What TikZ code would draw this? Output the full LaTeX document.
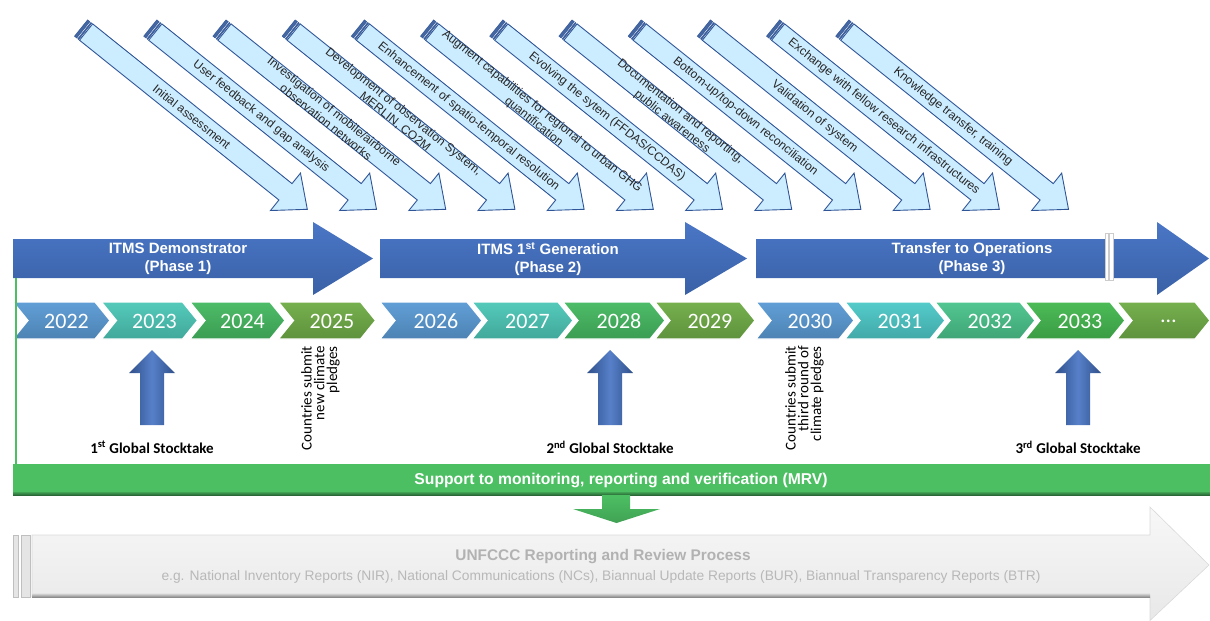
\documentclass[tikz,border=0pt]{standalone}
\usepackage{fontspec}
\setmainfont{Liberation Sans}
\newfontfamily\calibrifont{Carlito}
\usetikzlibrary{positioning, calc}

\definecolor{phaseblue}{RGB}{68,114,196}
\definecolor{taskfill}{RGB}{204,236,255}
\definecolor{taskline}{RGB}{47,85,151}
\definecolor{yblue}{RGB}{91,155,213}
\definecolor{yteal}{RGB}{77,200,184}
\definecolor{ygreen}{RGB}{70,186,98}
\definecolor{yolive}{RGB}{112,173,71}
\definecolor{ycyan}{RGB}{77,201,200}
\definecolor{ymint}{RGB}{75,196,140}
\definecolor{yleaf}{RGB}{69,185,80}
\definecolor{mrvgreen}{RGB}{76,191,99}

\begin{document}
\begin{tikzpicture}[
    x=1pt, y=-1pt,
    taskarrow/.style={draw=taskline, fill=taskfill, line width=0.9pt, line join=miter},
    taskstripe/.style={fill=taskline!90, draw=taskline, line width=0.4pt},
    tasktext/.style={font=\fontsize{12}{13.5}\selectfont, text=black!85, align=center, inner sep=0pt},
    phasearrow/.style={top color=phaseblue!97!white, bottom color=phaseblue!85!black},
    phasetext/.style={font=\bfseries\fontsize{15}{18}\selectfont, text=white, align=center, inner sep=0pt},
    yearbox/.style={top color=#1!96!white, bottom color=#1!84!black, draw=white, line width=1.2pt, line join=miter},
    yeartext/.style={font=\calibrifont\fontsize{22}{22}\selectfont, text=white, inner sep=0pt},
    stockarrow/.style={left color=phaseblue!70!black, right color=phaseblue!70!black, middle color=phaseblue!90!white},
    stocktext/.style={font=\calibrifont\bfseries\fontsize{15}{18}\selectfont, inner sep=0pt},
    pledgetext/.style={font=\calibrifont\fontsize{15}{12.7}\selectfont, align=right, rotate=90, inner sep=0pt, anchor=north east},
    mrvtext/.style={font=\bfseries\fontsize{15.7}{18}\selectfont, text=white, inner sep=0pt},
    greyarrow/.style={top color=black!3, bottom color=black!9, draw=black!15, line width=0.6pt},
    greytitle/.style={font=\bfseries\fontsize{15.4}{18}\selectfont, text=black!30, inner sep=0pt},
    greynote/.style={font=\fontsize{13.8}{16}\selectfont, text=black!28, inner sep=0pt}
]
\useasboundingbox (0,0) rectangle (1210,621);

% work packages along the top
\foreach \txt [count=\i from 0] in {
    {Initial assessment},
    {User feedback and gap analysis},
    {Investigation of mobile/airborne\\observation networks},
    {Development of observation System,\\MERLIN, CO2M},
    {Enhancement of spatio-temporal resolution},
    {Augment capabilities for regional to urban GHG\\quantification},
    {Evolving the sytem (FFDAS/CCDAS)},
    {Documentation and reporting,\\public awareness},
    {Bottom-up/top-down reconciliation},
    {Validation of system},
    {Exchange with fellow research infrastructures},
    {Knowledge transfer, training}}{
  \begin{scope}[shift={(81+69.2*\i,28)}, rotate=-38.7]
    \path[taskarrow] (6.5,-10.5) -- (262,-10.5) -- (262,-24) -- (290,0) -- (262,24) -- (262,10.5) -- (6.5,10.5) -- cycle;
    \path[taskstripe] (0,-10.5) rectangle (3,10.5);
    \path[taskstripe] (4.2,-10.5) rectangle (5.4,10.5);
    \node[tasktext, transform shape] (task\i) at (142,0) {\txt};
  \end{scope}
}

% the three phases
\foreach \xa/\xb/\xc/\xt/\txt [count=\k] in {
    13/313/373/178/{ITMS Demonstrator\\(Phase 1)},
    380/685/747/548/{ITMS 1\textsuperscript{st} Generation\\(Phase 2)},
    756/1157/1209/972/{Transfer to Operations\\(Phase 3)}}{
  \path[phasearrow] (\xa,239) -- (\xb,239) -- (\xb,222) -- (\xc,258.5) -- (\xb,295) -- (\xb,278) -- (\xa,278) -- cycle;
  \node[phasetext] (phase\k) at (\xt,259) {\txt};
}
\path[fill=white, draw=black!20, line width=0.5pt] (1105,233) rectangle (1108.5,280) (1109.5,233) rectangle (1113,280);

% years
\foreach \yr/\xl/\w/\c [count=\n] in {
    2022/13/97/yblue, 2023/101.5/96/yteal, 2024/190/95/ygreen, 2025/278.5/97/yolive,
    2026/380/102/yblue, 2027/472/101/yteal, 2028/563/102/ygreen, 2029/655/100/yolive,
    2030/756/98/yblue, 2031/845/100/ycyan, 2032/935/100/ymint, 2033/1025/100/yleaf,
    \dots/1117/93/yolive}{
  \path[yearbox=\c] (\xl,302) -- ({\xl+\w-15},302) -- ({\xl+\w},320.5) -- ({\xl+\w-15},339) -- (\xl,339) -- ({\xl+15},320.5) -- cycle;
  \node[yeartext] (year\n) at ({\xl+\w/2+5},321) {\yr};
}

\draw[mrvgreen, line width=2pt] (15.5,278) -- (15.5,464);

% global stocktakes
\foreach \cx/\lab [count=\m] in {152/1\textsuperscript{st}, 610/2\textsuperscript{nd}, 1078/3\textsuperscript{rd}}{
  \path[stockarrow] (\cx-12,425) -- (\cx-12,373) -- (\cx-23,373) -- (\cx,350) -- (\cx+23,373) -- (\cx+12,373) -- (\cx+12,425) -- cycle;
  \coordinate (foot\m) at (\cx,425);
  \node[stocktext, below=16pt of foot\m] (stock\m) {\lab\ Global Stocktake};
}

\node[pledgetext] (pledge1) at (301,346) {Countries submit\\new climate\\pledges};
\node[pledgetext] (pledge2) at (785,346) {Countries submit\\third round of\\climate pledges};

% MRV bar and hand-over
\path[fill=mrvgreen] (13,464) rectangle (1210,495);
\path[top color=mrvgreen!80!black, bottom color=mrvgreen!50!black] (13,492.5) rectangle (1210,495.5);
\node[mrvtext] (mrv) at (621,480) {Support to monitoring, reporting and verification (MRV)};
\path[top color=mrvgreen, bottom color=mrvgreen!85!black] (602,495) -- (602,509) -- (573,509) -- (616.5,523) -- (660,509) -- (630,509) -- (630,495) -- cycle;

% UNFCCC process
\path[greyarrow] (32,535) -- (1150,535) -- (1150,507) -- (1209,565) -- (1150,620.5) -- (1150,597) -- (32,597) -- cycle;
\path[top color=black!15, bottom color=black!45] (32,593.5) rectangle (1150,597);
\path[fill=black!10, draw=black!25, line width=0.4pt] (13,535) rectangle (18,597) (21,535) rectangle (30,597);
\node[greytitle] (unfccc) at (603,557) {UNFCCC Reporting and Review Process};
\node[greynote] (reports) at (601,577) {e.g. National Inventory Reports (NIR), National Communications (NCs), Biannual Update Reports (BUR), Biannual Transparency Reports (BTR)};

\end{tikzpicture}
\end{document}
